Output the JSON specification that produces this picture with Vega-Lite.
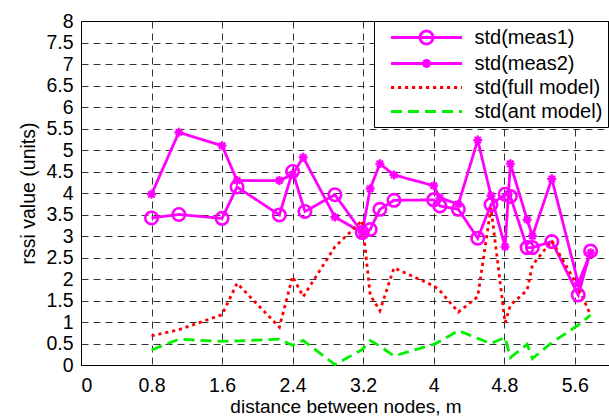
{
  "$schema": "https://vega.github.io/schema/vega-lite/v6.json",
  "width": 529,
  "height": 344,
  "autosize": {"type": "none"},
  "padding": {"left": 81, "top": 21, "right": 0, "bottom": 54},
  "background": "white",
  "config": {
    "font": "Liberation Sans",
    "view": {"stroke": "black", "strokeWidth": 1},
    "axis": {
      "labelFont": "Liberation Sans",
      "labelFontSize": 19.5,
      "labelColor": "black",
      "titleFont": "Liberation Sans",
      "titleFontSize": 19.5,
      "titleFontWeight": "normal",
      "titleColor": "black",
      "domainColor": "black",
      "domainWidth": 1,
      "ticks": false,
      "gridColor": "#000000",
      "gridOpacity": 0.8,
      "gridDash": [7, 5],
      "gridWidth": 1
    }
  },
  "data": {
    "values": [
      {"x": 0.80, "y": 3.42, "s": "std(meas1)"},
      {"x": 1.11, "y": 3.50, "s": "std(meas1)"},
      {"x": 1.60, "y": 3.41, "s": "std(meas1)"},
      {"x": 1.77, "y": 4.14, "s": "std(meas1)"},
      {"x": 2.25, "y": 3.49, "s": "std(meas1)"},
      {"x": 2.40, "y": 4.50, "s": "std(meas1)"},
      {"x": 2.54, "y": 3.57, "s": "std(meas1)"},
      {"x": 2.88, "y": 3.96, "s": "std(meas1)"},
      {"x": 3.19, "y": 3.08, "s": "std(meas1)"},
      {"x": 3.28, "y": 3.15, "s": "std(meas1)"},
      {"x": 3.39, "y": 3.62, "s": "std(meas1)"},
      {"x": 3.55, "y": 3.83, "s": "std(meas1)"},
      {"x": 4.00, "y": 3.84, "s": "std(meas1)"},
      {"x": 4.07, "y": 3.70, "s": "std(meas1)"},
      {"x": 4.28, "y": 3.62, "s": "std(meas1)"},
      {"x": 4.50, "y": 2.95, "s": "std(meas1)"},
      {"x": 4.65, "y": 3.73, "s": "std(meas1)"},
      {"x": 4.81, "y": 3.97, "s": "std(meas1)"},
      {"x": 4.87, "y": 3.92, "s": "std(meas1)"},
      {"x": 5.06, "y": 2.73, "s": "std(meas1)"},
      {"x": 5.12, "y": 2.73, "s": "std(meas1)"},
      {"x": 5.34, "y": 2.87, "s": "std(meas1)"},
      {"x": 5.64, "y": 1.63, "s": "std(meas1)"},
      {"x": 5.78, "y": 2.65, "s": "std(meas1)"},

      {"x": 0.80, "y": 3.97, "s": "std(meas2)"},
      {"x": 1.11, "y": 5.41, "s": "std(meas2)"},
      {"x": 1.60, "y": 5.10, "s": "std(meas2)"},
      {"x": 1.77, "y": 4.29, "s": "std(meas2)"},
      {"x": 2.25, "y": 4.29, "s": "std(meas2)"},
      {"x": 2.40, "y": 4.43, "s": "std(meas2)"},
      {"x": 2.52, "y": 4.83, "s": "std(meas2)"},
      {"x": 2.88, "y": 3.44, "s": "std(meas2)"},
      {"x": 3.19, "y": 3.08, "s": "std(meas2)"},
      {"x": 3.28, "y": 4.10, "s": "std(meas2)"},
      {"x": 3.39, "y": 4.68, "s": "std(meas2)"},
      {"x": 3.55, "y": 4.42, "s": "std(meas2)"},
      {"x": 4.00, "y": 4.17, "s": "std(meas2)"},
      {"x": 4.07, "y": 3.89, "s": "std(meas2)"},
      {"x": 4.28, "y": 3.74, "s": "std(meas2)"},
      {"x": 4.50, "y": 5.23, "s": "std(meas2)"},
      {"x": 4.65, "y": 3.94, "s": "std(meas2)"},
      {"x": 4.81, "y": 2.75, "s": "std(meas2)"},
      {"x": 4.87, "y": 4.68, "s": "std(meas2)"},
      {"x": 5.06, "y": 3.38, "s": "std(meas2)"},
      {"x": 5.12, "y": 3.00, "s": "std(meas2)"},
      {"x": 5.34, "y": 4.33, "s": "std(meas2)"},
      {"x": 5.64, "y": 1.90, "s": "std(meas2)"},
      {"x": 5.78, "y": 2.61, "s": "std(meas2)"},

      {"x": 0.80, "y": 0.68, "s": "std(full model)"},
      {"x": 1.11, "y": 0.82, "s": "std(full model)"},
      {"x": 1.60, "y": 1.17, "s": "std(full model)"},
      {"x": 1.77, "y": 1.90, "s": "std(full model)"},
      {"x": 2.25, "y": 0.88, "s": "std(full model)"},
      {"x": 2.40, "y": 2.06, "s": "std(full model)"},
      {"x": 2.52, "y": 1.59, "s": "std(full model)"},
      {"x": 2.88, "y": 2.75, "s": "std(full model)"},
      {"x": 3.19, "y": 3.36, "s": "std(full model)"},
      {"x": 3.28, "y": 1.63, "s": "std(full model)"},
      {"x": 3.39, "y": 1.26, "s": "std(full model)"},
      {"x": 3.55, "y": 2.26, "s": "std(full model)"},
      {"x": 4.00, "y": 1.84, "s": "std(full model)"},
      {"x": 4.07, "y": 1.73, "s": "std(full model)"},
      {"x": 4.28, "y": 1.23, "s": "std(full model)"},
      {"x": 4.50, "y": 1.59, "s": "std(full model)"},
      {"x": 4.65, "y": 3.66, "s": "std(full model)"},
      {"x": 4.81, "y": 0.98, "s": "std(full model)"},
      {"x": 4.87, "y": 1.39, "s": "std(full model)"},
      {"x": 5.06, "y": 1.74, "s": "std(full model)"},
      {"x": 5.12, "y": 2.32, "s": "std(full model)"},
      {"x": 5.34, "y": 2.89, "s": "std(full model)"},
      {"x": 5.64, "y": 1.81, "s": "std(full model)"},
      {"x": 5.78, "y": 1.16, "s": "std(full model)"},

      {"x": 0.80, "y": 0.35, "s": "std(ant model)"},
      {"x": 1.11, "y": 0.60, "s": "std(ant model)"},
      {"x": 1.60, "y": 0.55, "s": "std(ant model)"},
      {"x": 1.77, "y": 0.56, "s": "std(ant model)"},
      {"x": 2.25, "y": 0.60, "s": "std(ant model)"},
      {"x": 2.40, "y": 0.46, "s": "std(ant model)"},
      {"x": 2.52, "y": 0.57, "s": "std(ant model)"},
      {"x": 2.88, "y": 0.01, "s": "std(ant model)"},
      {"x": 3.19, "y": 0.36, "s": "std(ant model)"},
      {"x": 3.28, "y": 0.57, "s": "std(ant model)"},
      {"x": 3.39, "y": 0.44, "s": "std(ant model)"},
      {"x": 3.55, "y": 0.21, "s": "std(ant model)"},
      {"x": 4.00, "y": 0.48, "s": "std(ant model)"},
      {"x": 4.07, "y": 0.55, "s": "std(ant model)"},
      {"x": 4.28, "y": 0.80, "s": "std(ant model)"},
      {"x": 4.50, "y": 0.62, "s": "std(ant model)"},
      {"x": 4.65, "y": 0.50, "s": "std(ant model)"},
      {"x": 4.81, "y": 0.64, "s": "std(ant model)"},
      {"x": 4.87, "y": 0.17, "s": "std(ant model)"},
      {"x": 5.06, "y": 0.48, "s": "std(ant model)"},
      {"x": 5.12, "y": 0.15, "s": "std(ant model)"},
      {"x": 5.34, "y": 0.52, "s": "std(ant model)"},
      {"x": 5.64, "y": 0.93, "s": "std(ant model)"},
      {"x": 5.78, "y": 1.16, "s": "std(ant model)"}
    ]
  },
  "encoding": {
    "x": {
      "field": "x", "type": "quantitative",
      "scale": {"domain": [0, 6], "nice": false, "zero": false},
      "axis": {
        "title": "distance between nodes, m",
        "values": [0, 0.8, 1.6, 2.4, 3.2, 4, 4.8, 5.6],
        "labelExpr": "'' + datum.value",
        "labelPadding": 11,
        "titlePadding": 3,
        "titleFontSize": 19
      }
    },
    "y": {
      "field": "y", "type": "quantitative",
      "scale": {"domain": [0, 8], "nice": false},
      "axis": {
        "title": "rssi value (units)",
        "values": [0, 0.5, 1, 1.5, 2, 2.5, 3, 3.5, 4, 4.5, 5, 5.5, 6, 6.5, 7, 7.5, 8],
        "labelExpr": "'' + datum.value",
        "labelPadding": 8,
        "titlePadding": 7
      }
    }
  },
  "layer": [
    {
      "mark": {"type": "line", "strokeCap": "butt"},
      "encoding": {
        "order": {"field": "x", "type": "quantitative"},
        "color": {
          "field": "s", "type": "nominal",
          "scale": {
            "domain": ["std(meas1)", "std(meas2)", "std(full model)", "std(ant model)"],
            "range": ["#FF00FF", "#FF00FF", "#FF0000", "#00F000"]
          },
          "legend": {
            "orient": "none",
            "legendX": 293,
            "legendY": 0,
            "title": null,
            "fillColor": "white",
            "strokeColor": "black",
            "padding": 5,
            "rowPadding": 2,
            "symbolSize": 400,
            "symbolStrokeWidth": 3.2,
            "symbolOffset": 36,
            "labelOffset": 36.5,
            "labelFont": "Liberation Sans",
            "labelFontSize": 20,
            "labelColor": "black",
            "labelLimit": 300,
            "encode": {
              "symbols": {
                "update": {
                  "shape": {"signal": "datum.value === 'std(meas1)' ? 'M-3.55,0L3.55,0M-0.65,0A0.65,0.65 0 1,1 0.65,0A0.65,0.65 0 1,1 -0.65,0' : datum.value === 'std(meas2)' ? 'M-3.55,0L3.55,0M0,-0.45L0,0.45M-0.32,-0.32L0.32,0.32M-0.32,0.32L0.32,-0.32' : 'M-3.55,0L3.55,0'"}
                }
              }
            }
          }
        },
        "strokeDash": {
          "field": "s", "type": "nominal",
          "scale": {
            "domain": ["std(meas1)", "std(meas2)", "std(full model)", "std(ant model)"],
            "range": [[1, 0], [1, 0], [3.2, 3.8], [11, 6]]
          },
          "legend": null
        },
        "strokeWidth": {
          "field": "s", "type": "nominal",
          "scale": {
            "domain": ["std(meas1)", "std(meas2)", "std(full model)", "std(ant model)"],
            "range": [2.8, 2.8, 3.4, 3.4]
          },
          "legend": null
        }
      }
    },
    {
      "transform": [{"filter": "datum.s === 'std(meas1)'"}],
      "mark": {"type": "point", "shape": "circle", "size": 155, "filled": false, "stroke": "#FF00FF", "strokeWidth": 2.6, "opacity": 1}
    },
    {
      "transform": [{"filter": "datum.s === 'std(meas2)'"}],
      "mark": {"type": "point", "shape": "M-1,0L1,0M0,-1L0,1M-0.7,-0.7L0.7,0.7M-0.7,0.7L0.7,-0.7", "size": 81, "filled": false, "stroke": "#FF00FF", "strokeWidth": 2.2, "opacity": 1}
    }
  ]
}
